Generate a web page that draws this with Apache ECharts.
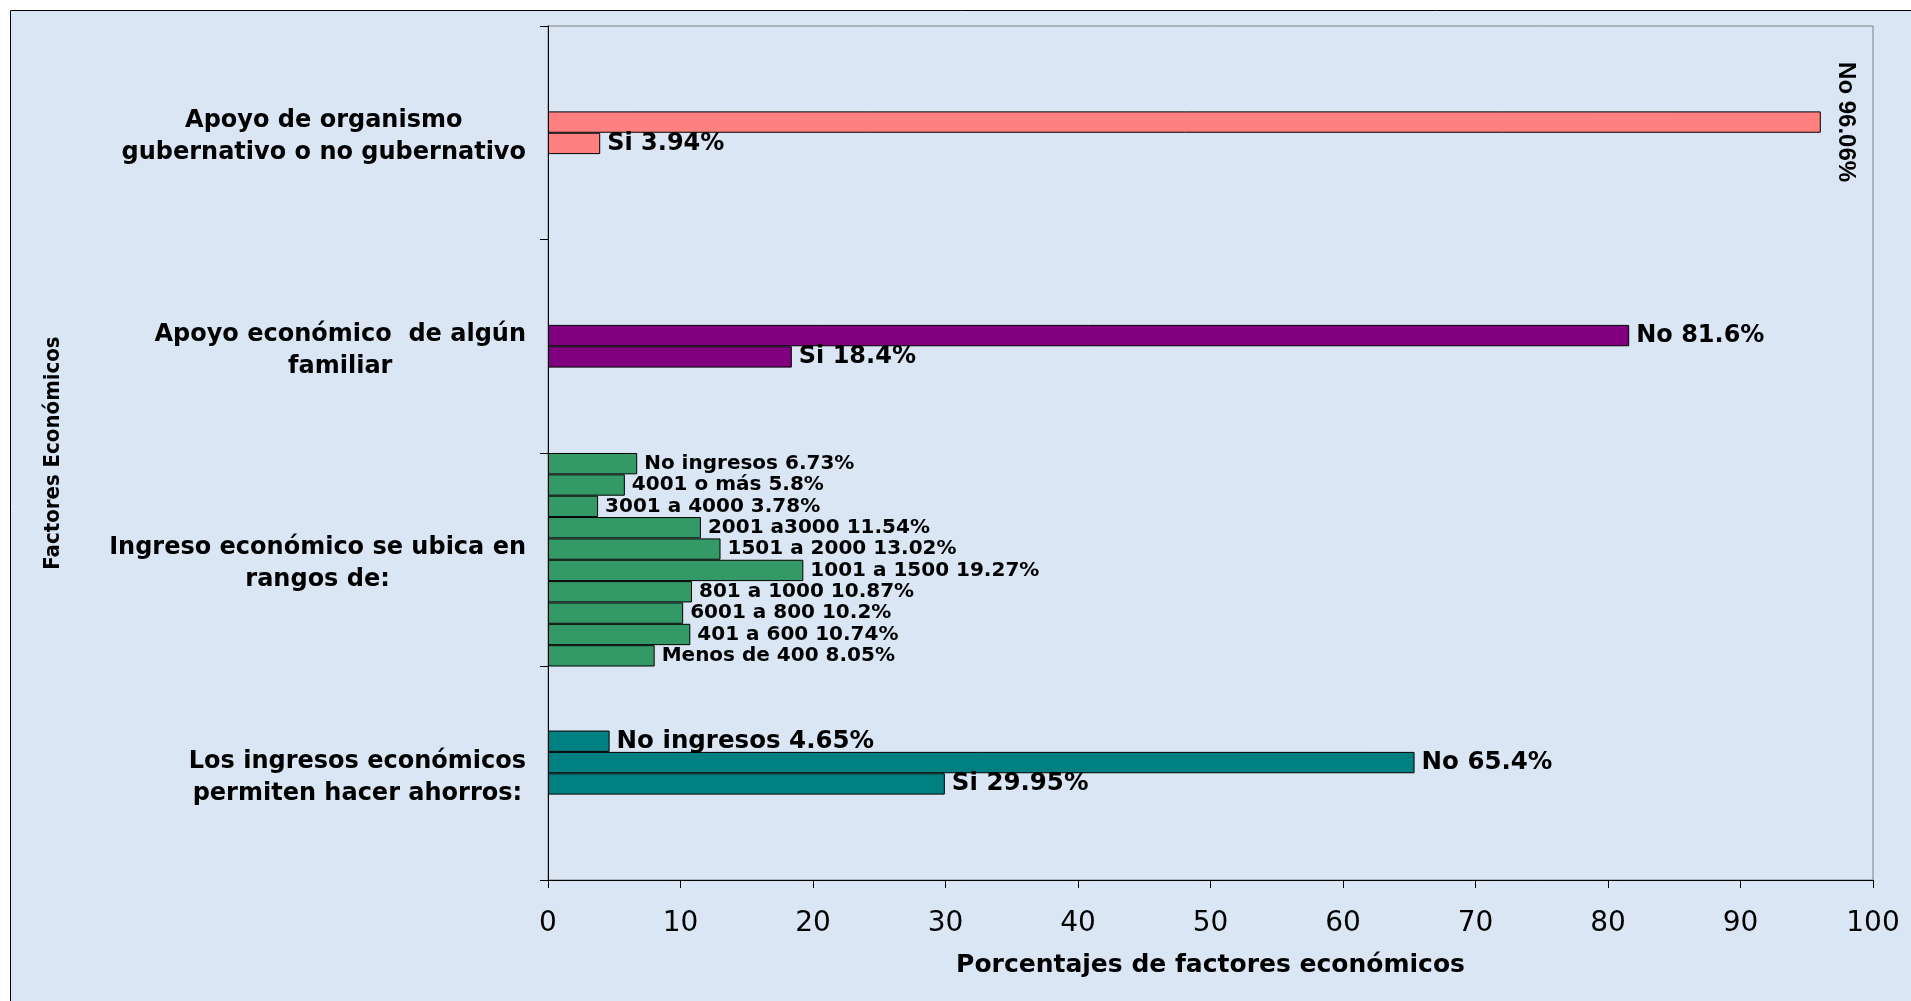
<!DOCTYPE html>
<html><head><meta charset="utf-8">
<script src="https://cdn.jsdelivr.net/npm/echarts@6/dist/echarts.min.js"></script>
<style>html,body{margin:0;padding:0;background:#fff;}#chart{width:1911px;height:1001px;}</style>
</head><body><div id="chart"></div>
<script>
// ---- data ----
const groupLabels = [
  'Apoyo de organismo\ngubernativo o no gubernativo',
  'Apoyo económico  de algún\nfamiliar',
  'Ingreso económico se ubica en\nrangos de:',
  'Los ingresos económicos\npermiten hacer ahorros:'
];
const organismoLabels = ['No', 'Si'];
const organismoValues = [96.06, 3.94];
const familiarLabels = ['No', 'Si'];
const familiarValues = [81.6, 18.4];
const rangoLabels = ['No ingresos', '4001 o más', '3001 a 4000', '2001 a3000', '1501 a 2000', '1001 a 1500', '801 a 1000', '6001 a 800', '401 a 600', 'Menos de 400'];
const rangoValues = [6.73, 5.8, 3.78, 11.54, 13.02, 19.27, 10.87, 10.2, 10.74, 8.05];
const ahorroLabels = ['No ingresos', 'No', 'Si'];
const ahorroValues = [4.65, 65.4, 29.95];
const xTicks = [0, 10, 20, 30, 40, 50, 60, 70, 80, 90, 100];

// ---- layout / style ----
const SLOTS = 10;
const groupStart = [4, 4, 0, 3];
const groups = [
  { labels: organismoLabels, values: organismoValues, color: '#FF8080', fs: 24 },
  { labels: familiarLabels, values: familiarValues, color: '#800080', fs: 24 },
  { labels: rangoLabels, values: rangoValues, color: '#339966', fs: 20 },
  { labels: ahorroLabels, values: ahorroValues, color: '#008080', fs: 24.5 }
];
const slotCats = [];
for (let i = 0; i < SLOTS * groupLabels.length; i++) slotCats.push('s' + i);

const series = groups.map((g, gi) => {
  const data = slotCats.map(() => '-');
  g.labels.forEach((lab, i) => {
    const item = { value: g.values[i], name: lab };
    if (gi === 0 && i === 0) {
      item.label = {
        rotate: -90, distance: 32, align: 'center', verticalAlign: 'middle',
        offset: [0, 7], fontFamily: 'Liberation Sans', fontSize: 24
      };
    }
    data[gi * SLOTS + groupStart[gi] + i] = item;
  });
  return {
    type: 'bar', yAxisIndex: 1, data: data,
    barWidth: '100%', barGap: '-100%', barCategoryGap: '0%',
    itemStyle: { color: g.color, borderColor: '#000', borderWidth: 1 },
    label: {
      show: true, position: 'right', distance: 7, color: '#000',
      fontFamily: 'DejaVu Sans', fontWeight: 'bold', fontSize: g.fs,
      formatter: p => p.data.name + ' ' + p.data.value + '%'
    },
    animation: false
  };
});

const chart = echarts.init(document.getElementById('chart'));
chart.setOption({
  backgroundColor: '#ffffff',
  animation: false,
  graphic: [{
    type: 'rect', silent: true, z: -10,
    shape: { x: 10.5, y: 10.5, width: 1920, height: 1010 },
    style: { fill: '#dae6f4', stroke: '#000', lineWidth: 1 }
  }],
  grid: { left: 548, right: 38, top: 26, bottom: 121, show: true, borderColor: '#808080', borderWidth: 1, backgroundColor: 'transparent' },
  xAxis: {
    type: 'value', min: xTicks[0], max: xTicks[xTicks.length - 1], interval: 10,
    axisLine: { show: true, lineStyle: { color: '#000', width: 1 } },
    axisTick: { show: true, length: 8, lineStyle: { color: '#000' } },
    splitLine: { show: false },
    axisLabel: { fontFamily: 'DejaVu Sans', fontSize: 28, color: '#000', margin: 30 },
    name: 'Porcentajes de factores económicos', nameLocation: 'middle', nameGap: 73,
    nameTextStyle: { fontFamily: 'DejaVu Sans', fontWeight: 'bold', fontSize: 25, color: '#000' }
  },
  yAxis: [{
    type: 'category', data: groupLabels, inverse: true,
    axisLine: { show: true, lineStyle: { color: '#000', width: 1 } },
    axisTick: { show: true, length: 8, lineStyle: { color: '#000' } },
    splitLine: { show: false },
    axisLabel: {
      align: 'right', margin: 22, color: '#000', padding: [9, 0, 0, 0],
      formatter: v => v.split('\n').map(l => '{c|' + l + '}').join('\n'),
      rich: { c: { align: 'center', fontFamily: 'DejaVu Sans', fontWeight: 'bold', fontSize: 24, lineHeight: 32, color: '#000' } }
    },
    name: 'Factores Económicos', nameLocation: 'middle', nameGap: 484,
    nameTextStyle: { fontFamily: 'DejaVu Sans Condensed', fontWeight: 'bold', fontSize: 22, color: '#000' }
  }, {
    type: 'category', data: slotCats, inverse: true, show: false
  }],
  series: series
});
</script></body></html>
